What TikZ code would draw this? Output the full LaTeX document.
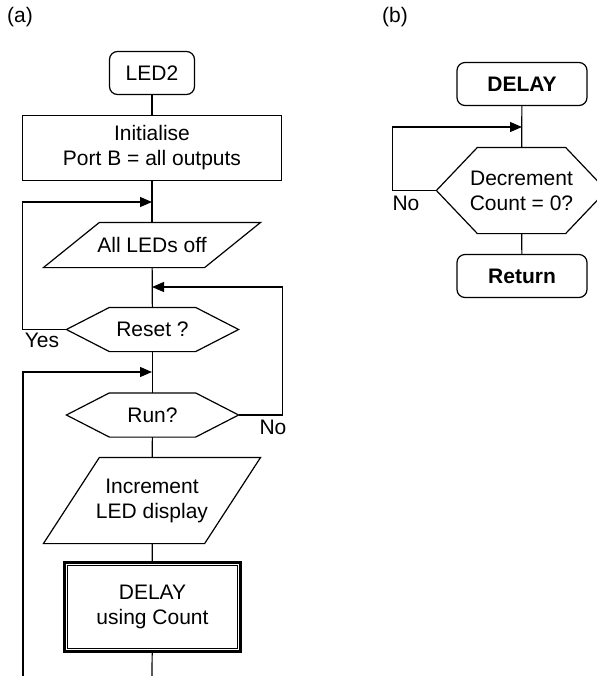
\documentclass[tikz,border=0pt]{standalone}
\usepackage{fontspec}
\setmainfont{Liberation Sans}
\usetikzlibrary{arrows.meta}

% outline of a decision node: a hexagon in the node's box
\newcommand{\hexbox}[2]{\draw (#1.west) -- ([xshift=#2]#1.north west) -- ([xshift=-#2]#1.north east)
  -- (#1.east) -- ([xshift=-#2]#1.south east) -- ([xshift=#2]#1.south west) -- cycle;}
% outline of an input/output node: a parallelogram in the node's box
\newcommand{\slantbox}[2]{\draw ([xshift=#2]#1.north west) -- (#1.north east)
  -- ([xshift=-#2]#1.south east) -- (#1.south west) -- cycle;}

\begin{document}
\begin{tikzpicture}[x=0.5pt,y=-0.5pt,
    font=\fontsize{10.5}{12.5}\selectfont,line width=0.6pt,
    every node/.style={align=center,inner sep=0pt},
    terminal/.style={draw,rounded corners=4pt,minimum width=42.5pt,minimum height=21.5pt},
    process/.style={draw,minimum width=129.5pt,minimum height=32.5pt},
    io/.style={minimum width=108pt,minimum height=22pt},
    decision/.style={minimum width=85.5pt,minimum height=21.5pt},
    subroutine/.style={draw,line width=1.5pt,minimum width=88pt,minimum height=44.5pt},
    flow/.style={-{Triangle[length=6pt,width=5pt]}}]
  \useasboundingbox (0,0) rectangle (597,676);
  % (a) main program
  \node at (20,17) {(a)};
  \node[terminal] (led) at (152,73) {LED2};
  \node[process] (init) at (152,148) {Initialise\\Port B = all outputs};
  \node[io] (off) at (152,245) {All LEDs off};
  \node[decision] (reset) at (152.5,329.5) {Reset ?};
  \node[decision] (run) at (152.5,415) {Run?};
  \node[io,minimum height=42.5pt] (inc) at (152,500.5) {Increment\\LED display};
  \node[subroutine] (delay) at (152.5,607) {DELAY\\using Count};
  \slantbox{off}{28pt}
  \slantbox{inc}{28pt}
  \hexbox{reset}{21.5pt}
  \hexbox{run}{21.5pt}
  \draw ([shift={(2.25pt,-2.25pt)}]delay.north west) rectangle ([shift={(-2.25pt,2.25pt)}]delay.south east);
  \coordinate (j1) at (152,202);
  \coordinate (j2) at (152,287);
  \coordinate (j3) at (152,372);
  \coordinate (bot) at (152,676);
  \coordinate (botl) at (23,676);
  \draw (led) -- (init);
  \draw (init) -- (off);
  \draw (off) -- (reset);
  \draw (reset) -- (run);
  \draw (run) -- (inc);
  \draw (inc) -- (delay);
  \draw (delay) -- (bot);
  \draw[flow] (reset.west) -- ++(-44,0) |- (j1);
  \draw[flow] (run.east) -- ++(44,0) |- (j2);
  \draw[flow] (botl) |- (j3);
  \node at (42,340) {Yes};
  \node at (273,427) {No};
  % (b) delay subroutine
  \node at (395,17) {(b)};
  \node[terminal,minimum width=65pt] (sub) at (522,84) {\textbf{DELAY}};
  \node[decision,minimum width=84.5pt,minimum height=42.5pt] (dec) at (521.5,190.5) {Decrement\\Count = 0?};
  \hexbox{dec}{20.5pt}
  \node[terminal,minimum width=65pt] (ret) at (522,276) {\textbf{Return}};
  \coordinate (j4) at (522,127);
  \draw (sub) -- (dec);
  \draw (dec) -- (ret);
  \draw[flow] (dec.west) -- ++(-44,0) |- (j4);
  \node at (406,203) {No};
\end{tikzpicture}
\end{document}
